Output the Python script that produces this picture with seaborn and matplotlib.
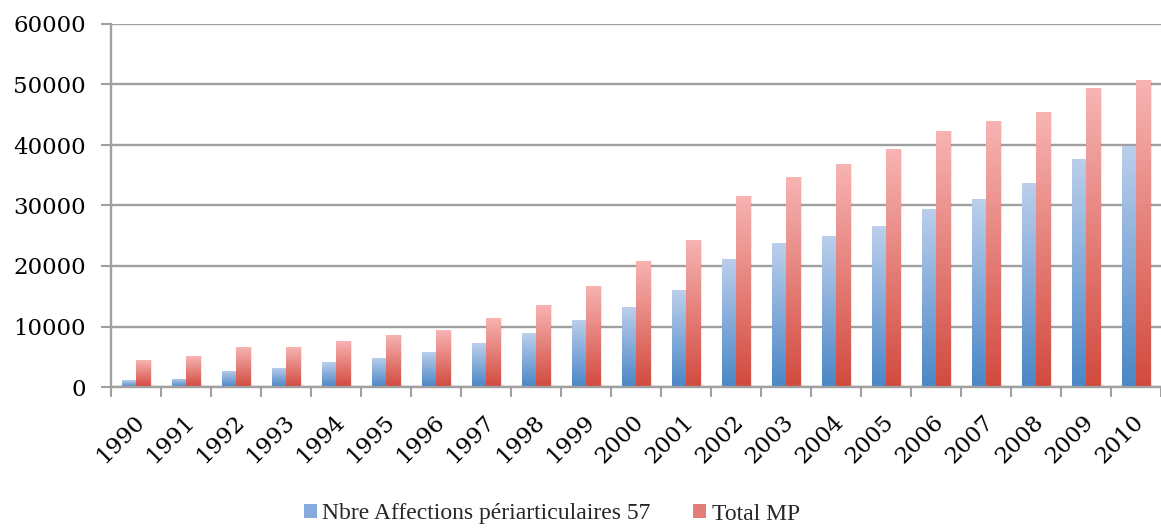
import numpy as np
import pandas as pd
import matplotlib
matplotlib.use("Agg")
import matplotlib.pyplot as plt
import matplotlib.transforms as mtransforms
import seaborn as sns
from matplotlib.colors import LinearSegmentedColormap
from matplotlib.patches import Patch

years = [str(y) for y in range(1990, 2011)]
affections = [1100, 1380, 2700, 3200, 4080, 4850, 5840, 7270, 8870, 11130, 13170,
              15980, 21160, 23750, 24900, 26560, 29420, 31070, 33720, 37740, 39890]
total_mp = [4460, 5120, 6600, 6600, 7550, 8600, 9420, 11450, 13500, 16700, 20830,
            24300, 31520, 34710, 36860, 39340, 42310, 43910, 45450, 49370, 50690]
series_names = ["Nbre Affections périarticulaires 57", "Total MP"]

df = pd.DataFrame({
    "year": years * 2,
    "value": affections + total_mp,
    "series": [series_names[0]] * len(years) + [series_names[1]] * len(years),
})

sns.set_theme(style="white")
plt.rcParams["font.family"] = ["DejaVu Serif", "DejaVu Sans"]

fig = plt.figure(figsize=(11.61, 5.28), dpi=100)
ax = fig.add_axes([111 / 1161, (528 - 387) / 528, 1050 / 1161, 363 / 528])

palette = {series_names[0]: "#7fa6d9", series_names[1]: "#e57b76"}
sns.barplot(data=df, x="year", y="value", hue="series", palette=palette,
            width=0.58, gap=0, ax=ax, legend=False, saturation=1)

ax.set_ylim(0, 60000)
ax.set_xlim(-0.5, len(years) - 0.5)
ax.set_yticks(np.arange(0, 60001, 10000))
ax.set_yticklabels([str(v) for v in range(0, 60001, 10000)], fontsize=16.5, color="#000000")
ax.set_xlabel("")
ax.set_ylabel("")
ax.yaxis.grid(True, color="#a0a0a0", linewidth=1.7)
ax.set_axisbelow(True)

for s in ["top", "right"]:
    ax.spines[s].set_visible(False)
for s in ["left", "bottom"]:
    ax.spines[s].set_color("#a0a0a0")
    ax.spines[s].set_linewidth(1.7)

ax.tick_params(axis="y", which="major", length=7, width=1.5, color="#a0a0a0", pad=11, left=True)
ax.set_xticks(np.arange(len(years)))
ax.set_xticklabels(years, rotation=45, ha="right", rotation_mode="anchor",
                   fontsize=16.5, color="#000000")
ax.tick_params(axis="x", which="major", length=0, pad=17)
offset = mtransforms.ScaledTranslation(-3 / 100, 0, fig.dpi_scale_trans)
for lbl in ax.get_xticklabels():
    lbl.set_transform(lbl.get_transform() + offset)
ax.set_xticks(np.arange(-0.5, len(years), 1), minor=True)
ax.tick_params(axis="x", which="minor", length=7, width=1.5, color="#a0a0a0", bottom=True)

cmaps = {
    series_names[0]: LinearSegmentedColormap.from_list("b", ["#4a86c6", "#bccfec"]),
    series_names[1]: LinearSegmentedColormap.from_list("r", ["#d24a3e", "#f7b4b3"]),
}
grad = np.linspace(0, 1, 256).reshape(-1, 1)
n = len(years)
for i, patch in enumerate(ax.patches[: 2 * n]):
    name = series_names[i // n]
    x0, y0 = patch.get_x(), patch.get_y()
    w, h = patch.get_width(), patch.get_height()
    if h <= 0:
        continue
    ax.add_patch(plt.Rectangle((x0 + w * 0.08, y0), w, h, facecolor="#000000",
                               alpha=0.08, edgecolor="none", zorder=patch.get_zorder() - 0.1))
    im = ax.imshow(grad, extent=[x0, x0 + w, y0, y0 + h], origin="lower",
                   cmap=cmaps[name], aspect="auto", zorder=patch.get_zorder() + 0.1)
    im.set_clip_path(patch)
    patch.set_edgecolor("none")

ax.set_xlim(-0.5, len(years) - 0.5)
ax.set_ylim(0, 60000)

handles = [Patch(facecolor="#86aadb", edgecolor="none"), Patch(facecolor="#e47d78", edgecolor="none")]
fig.legend(handles, series_names, loc="center", bbox_to_anchor=(552 / 1161, 14 / 528),
           ncol=2, frameon=False, handlelength=0.55, handleheight=0.55,
           handletextpad=0.25, columnspacing=1.8,
           prop={"family": "Liberation Serif", "size": 17})

fig.savefig("out.png", dpi=100)
